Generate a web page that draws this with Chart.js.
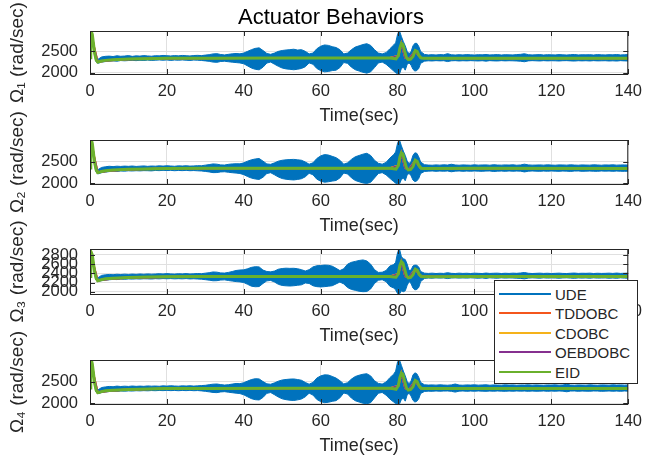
<!DOCTYPE html>
<html>
<head>
<meta charset="utf-8">
<title>Actuator Behaviors</title>
<script src="https://cdn.jsdelivr.net/npm/chart.js@4.4.0/dist/chart.umd.min.js"></script>
<style>
  html, body { margin: 0; padding: 0; background: #fff; }
  #wrap { position: relative; width: 650px; height: 459px; overflow: hidden; background: #fff; }
  #wrap canvas { position: absolute; left: 0; top: 0; }
  #legend {
    position: absolute; left: 494px; top: 280px; width: 144px; height: 104px;
    box-sizing: border-box; background: #fff; border: 1px solid #262626;
    font: 15px "Liberation Sans", Arial, Helvetica, sans-serif; color: #262626;
  }
  #legend .row { position: absolute; left: 4px; height: 20px; display: flex; align-items: center; }
  #legend .swatch { width: 52px; height: 2px; margin-right: 4px; }
</style>
</head>
<body>
<div id="wrap">
  <canvas id="c0" width="650" height="459"></canvas>
  <canvas id="c1" width="650" height="459"></canvas>
  <canvas id="c2" width="650" height="459"></canvas>
  <canvas id="c3" width="650" height="459"></canvas>
  <div id="legend"></div>
</div>
<script>
// ---- data ----
const seriesNames = ['UDE', 'TDDOBC', 'CDOBC', 'OEBDOBC', 'EID'];
const xTicks = [0, 20, 40, 60, 80, 100, 120, 140];
const yTicksWide = [2000, 2500];
const yTicksFine = [2000, 2200, 2400, 2600, 2800];

// UDE is a fast oscillation: kept as its upper / lower envelope
const timeBand = [0, 0.4, 1, 1.5, 2,
  3, 4, 5, 6, 7, 8, 9, 10, 11, 12, 13, 14, 15, 16, 17, 18, 19, 20, 21, 22,
  23, 24, 25, 26, 27, 28, 29, 30, 31, 32, 33, 34, 35, 36, 37, 38, 39, 40, 41, 42,
  43, 44, 45, 46, 47, 48, 49, 50, 51, 52, 53, 54, 55, 56, 57, 58, 59, 60, 61, 62,
  63, 64, 65, 66, 67, 68, 69, 70, 71, 72, 73, 74, 75, 76, 77, 78, 79,
  79.5, 80, 80.5, 81, 81.5, 82, 82.5, 83, 83.5, 84, 84.5, 85, 85.5, 86,
  87, 88, 89, 90, 91, 92, 93, 94, 95, 96, 97, 98, 99, 100, 101, 102, 103, 104, 105, 106,
  107, 108, 109, 110, 111, 112, 113, 114, 115, 116, 117, 118, 119, 120, 121, 122, 123, 124, 125, 126,
  127, 128, 129, 130, 131, 132, 133, 134, 135, 136, 137, 138, 139, 140];

const ude1Upper = [2350, 2960, 2660, 2390, 2310,
  2370, 2385, 2390, 2380, 2398, 2386, 2392, 2402, 2384, 2396,
  2390, 2402, 2394, 2388, 2400, 2396, 2406, 2400, 2394, 2402,
  2396, 2406, 2400, 2394, 2404, 2408, 2402, 2414, 2424, 2442,
  2448, 2428, 2418, 2432, 2444, 2452, 2444, 2462, 2502, 2542,
  2572, 2584, 2522, 2452, 2432, 2462, 2502, 2522, 2534, 2542,
  2552, 2532, 2542, 2502, 2442, 2462, 2562, 2622, 2652, 2642,
  2612, 2592, 2542, 2442, 2462, 2542, 2602, 2632, 2662, 2682,
  2642, 2542, 2462, 2442, 2472, 2562, 2652,
  2700, 2900, 2980, 2850, 2730, 2630, 2500, 2450, 2490, 2630, 2690, 2690, 2620, 2500,
  2430, 2418, 2424, 2416, 2426, 2420, 2448, 2422, 2416, 2424,
  2418, 2426, 2420, 2416, 2424, 2420, 2428, 2418, 2422, 2426,
  2416, 2424, 2420, 2418, 2426, 2432, 2446, 2424, 2418, 2422,
  2426, 2416, 2424, 2420, 2418, 2426, 2420, 2416, 2424, 2428,
  2418, 2422, 2420, 2424, 2416, 2426, 2420, 2418, 2424, 2420,
  2428, 2418, 2422, 2426];
const ude1Lower = [2330, 2850, 2500, 2270, 2220,
  2250, 2262, 2272, 2280, 2270, 2286, 2280, 2286, 2290, 2284,
  2292, 2288, 2296, 2290, 2294, 2300, 2294, 2300, 2290, 2298,
  2294, 2300, 2294, 2288, 2298, 2294, 2288, 2278, 2268, 2250,
  2244, 2264, 2270, 2258, 2248, 2238, 2230, 2210, 2160, 2110,
  2080, 2068, 2130, 2228, 2250, 2200, 2150, 2110, 2090, 2080,
  2070, 2082, 2100, 2140, 2230, 2200, 2100, 2050, 2020, 2030,
  2050, 2060, 2120, 2240, 2220, 2130, 2070, 2040, 2010, 1990,
  2020, 2120, 2230, 2250, 2200, 2120, 2040,
  2000, 1975, 1970, 2100, 2130, 2060, 2200, 2230, 2180, 2080, 2040, 2050, 2100, 2220,
  2272, 2280, 2276, 2284, 2278, 2282, 2262, 2280, 2284, 2276,
  2282, 2278, 2284, 2280, 2276, 2282, 2272, 2284, 2278, 2276,
  2284, 2278, 2282, 2280, 2276, 2270, 2258, 2278, 2284, 2280,
  2276, 2284, 2278, 2282, 2280, 2276, 2282, 2284, 2278, 2274,
  2282, 2278, 2282, 2276, 2284, 2278, 2280, 2282, 2276, 2280,
  2274, 2284, 2278, 2276];

const ude2Upper = [2350, 2985, 2680, 2400, 2310,
  2365, 2380, 2392, 2384, 2394, 2388, 2396, 2390, 2398, 2388,
  2394, 2400, 2390, 2398, 2394, 2402, 2396, 2404, 2398, 2392,
  2402, 2398, 2404, 2396, 2400, 2406, 2404, 2418, 2430, 2446,
  2440, 2424, 2420, 2436, 2446, 2450, 2448, 2470, 2510, 2540,
  2560, 2570, 2510, 2446, 2436, 2470, 2510, 2530, 2540, 2546,
  2550, 2540, 2530, 2490, 2440, 2470, 2570, 2630, 2660, 2650,
  2620, 2590, 2530, 2440, 2470, 2550, 2610, 2640, 2670, 2690,
  2640, 2530, 2460, 2440, 2480, 2580, 2660,
  2720, 2920, 2995, 2860, 2740, 2640, 2510, 2455, 2500, 2640, 2700, 2690, 2610, 2490,
  2428, 2420, 2416, 2424, 2418, 2426, 2420, 2438, 2422, 2416,
  2424, 2420, 2416, 2426, 2418, 2422, 2424, 2416, 2428, 2420,
  2418, 2424, 2420, 2426, 2416, 2422, 2440, 2424, 2418, 2420,
  2424, 2418, 2426, 2420, 2416, 2424, 2422, 2418, 2426, 2420,
  2416, 2424, 2420, 2418, 2426, 2422, 2416, 2424, 2420, 2426,
  2418, 2422, 2424, 2420];
const ude2Lower = [2330, 2870, 2520, 2275, 2215,
  2245, 2258, 2270, 2278, 2274, 2284, 2280, 2288, 2284, 2290,
  2286, 2292, 2290, 2286, 2296, 2292, 2298, 2294, 2298, 2290,
  2296, 2292, 2298, 2290, 2294, 2288, 2284, 2274, 2262, 2246,
  2248, 2262, 2266, 2254, 2244, 2236, 2226, 2200, 2156, 2120,
  2100, 2090, 2140, 2226, 2244, 2196, 2146, 2110, 2094, 2084,
  2078, 2090, 2106, 2150, 2232, 2196, 2096, 2050, 2026, 2036,
  2052, 2066, 2124, 2236, 2216, 2126, 2066, 2036, 2010, 1998,
  2024, 2124, 2226, 2246, 2196, 2116, 2040,
  2005, 1990, 1986, 2090, 2120, 2060, 2196, 2228, 2176, 2076, 2040, 2056, 2110, 2226,
  2274, 2280, 2284, 2276, 2282, 2278, 2284, 2266, 2280, 2284,
  2276, 2282, 2278, 2284, 2280, 2276, 2282, 2284, 2272, 2280,
  2282, 2276, 2284, 2278, 2282, 2280, 2262, 2278, 2284, 2280,
  2276, 2282, 2278, 2284, 2280, 2276, 2282, 2280, 2274, 2282,
  2284, 2276, 2280, 2282, 2278, 2276, 2284, 2280, 2282, 2276,
  2282, 2278, 2276, 2280];

const ude3Upper = [2330, 2850, 2600, 2370, 2300,
  2355, 2368, 2376, 2370, 2380, 2374, 2382, 2376, 2384, 2378,
  2386, 2380, 2388, 2382, 2386, 2392, 2386, 2394, 2388, 2384,
  2392, 2388, 2394, 2386, 2390, 2396, 2392, 2404, 2414, 2430,
  2426, 2410, 2406, 2420, 2440, 2462, 2472, 2476, 2500, 2530,
  2545, 2540, 2470, 2440, 2432, 2450, 2490, 2505, 2512, 2508,
  2510, 2500, 2480, 2450, 2480, 2540, 2566, 2570, 2580, 2576,
  2556, 2510, 2460, 2500, 2600, 2640, 2660, 2680, 2692, 2670,
  2600, 2480, 2420, 2424, 2460, 2560, 2590,
  2640, 2850, 2930, 2760, 2720, 2700, 2600, 2460, 2470, 2560, 2580, 2575, 2540, 2440,
  2404, 2398, 2404, 2396, 2402, 2398, 2414, 2400, 2396, 2404,
  2398, 2402, 2396, 2404, 2400, 2396, 2406, 2398, 2402, 2404,
  2396, 2402, 2398, 2404, 2400, 2408, 2418, 2402, 2396, 2400,
  2404, 2398, 2402, 2396, 2400, 2404, 2398, 2396, 2402, 2406,
  2398, 2402, 2400, 2404, 2396, 2402, 2398, 2400, 2404, 2398,
  2406, 2398, 2402, 2404];
const ude3Lower = [2310, 2760, 2480, 2260, 2225,
  2240, 2252, 2260, 2268, 2264, 2274, 2270, 2278, 2274, 2280,
  2276, 2282, 2280, 2276, 2284, 2280, 2286, 2282, 2286, 2280,
  2284, 2280, 2286, 2278, 2282, 2276, 2272, 2262, 2252, 2238,
  2240, 2254, 2258, 2244, 2232, 2220, 2214, 2200, 2160, 2120,
  2108, 2112, 2180, 2236, 2246, 2210, 2160, 2136, 2128, 2124,
  2130, 2140, 2150, 2190, 2180, 2130, 2110, 2104, 2110, 2120,
  2130, 2170, 2210, 2170, 2090, 2050, 2030, 2010, 2000, 2004,
  2060, 2180, 2250, 2262, 2220, 2120, 2080,
  2040, 1960, 1950, 2020, 2000, 2020, 2140, 2220, 2180, 2080, 2040, 2050, 2090, 2220,
  2290, 2298, 2294, 2302, 2296, 2300, 2286, 2298, 2302, 2296,
  2300, 2296, 2302, 2298, 2294, 2300, 2290, 2302, 2296, 2294,
  2302, 2296, 2300, 2298, 2294, 2290, 2280, 2296, 2302, 2298,
  2294, 2302, 2296, 2300, 2298, 2294, 2300, 2302, 2296, 2292,
  2300, 2296, 2300, 2294, 2302, 2296, 2298, 2300, 2294, 2298,
  2292, 2302, 2296, 2294];

const ude4Upper = [2350, 2980, 2670, 2395, 2305,
  2362, 2378, 2388, 2382, 2396, 2386, 2394, 2388, 2398, 2390,
  2396, 2390, 2400, 2394, 2398, 2392, 2402, 2396, 2404, 2398,
  2394, 2402, 2398, 2404, 2396, 2402, 2408, 2414, 2428, 2440,
  2444, 2430, 2420, 2428, 2442, 2456, 2452, 2474, 2512, 2546,
  2566, 2560, 2500, 2448, 2438, 2470, 2510, 2536, 2548, 2556,
  2560, 2546, 2530, 2480, 2440, 2480, 2580, 2630, 2654, 2650,
  2618, 2580, 2520, 2446, 2474, 2556, 2616, 2646, 2668, 2680,
  2630, 2520, 2458, 2442, 2490, 2590, 2670,
  2740, 2950, 2995, 2870, 2740, 2630, 2500, 2452, 2510, 2650, 2700, 2680, 2600, 2480,
  2426, 2420, 2424, 2418, 2426, 2420, 2416, 2424, 2444, 2420,
  2416, 2424, 2420, 2426, 2418, 2422, 2426, 2416, 2424, 2420,
  2418, 2426, 2420, 2424, 2416, 2422, 2420, 2426, 2418, 2424,
  2420, 2416, 2424, 2420, 2426, 2418, 2422, 2438, 2420, 2416,
  2424, 2420, 2418, 2426, 2420, 2416, 2424, 2422, 2418, 2426,
  2420, 2424, 2418, 2422];
const ude4Lower = [2330, 2860, 2510, 2270, 2218,
  2248, 2262, 2272, 2278, 2272, 2284, 2280, 2286, 2282, 2290,
  2286, 2292, 2288, 2294, 2290, 2296, 2292, 2298, 2292, 2296,
  2290, 2296, 2292, 2298, 2290, 2294, 2286, 2276, 2264, 2250,
  2246, 2262, 2268, 2256, 2244, 2234, 2224, 2196, 2150, 2108,
  2084, 2078, 2136, 2230, 2248, 2198, 2144, 2104, 2084, 2072,
  2066, 2080, 2100, 2150, 2234, 2190, 2090, 2040, 2016, 2024,
  2046, 2062, 2126, 2238, 2214, 2120, 2060, 2030, 2004, 1990,
  2016, 2124, 2232, 2250, 2190, 2100, 2030,
  1995, 1986, 1985, 2090, 2120, 2050, 2196, 2232, 2170, 2070, 2030, 2046, 2104, 2226,
  2274, 2280, 2276, 2284, 2278, 2282, 2284, 2276, 2258, 2280,
  2284, 2276, 2282, 2278, 2284, 2280, 2276, 2282, 2278, 2284,
  2280, 2276, 2282, 2278, 2284, 2280, 2282, 2276, 2282, 2278,
  2280, 2284, 2276, 2282, 2278, 2284, 2280, 2266, 2282, 2284,
  2276, 2282, 2280, 2278, 2284, 2282, 2276, 2280, 2284, 2278,
  2282, 2276, 2284, 2280];

// the three observer controllers sit almost exactly under EID
const timeCtl = [0, 0.4, 1, 2, 3, 5, 10, 20, 40, 78, 80.2, 81, 82, 83, 84.6, 86, 90, 140];
const tddobc1 = [2350, 2930, 2620, 2255, 2270, 2290, 2318, 2337, 2344, 2344, 2395, 2680, 2350, 2322, 2510, 2350, 2342, 2340];
const cdobc1 = [2350, 2940, 2630, 2252, 2272, 2292, 2320, 2338, 2345, 2345, 2398, 2685, 2352, 2320, 2515, 2348, 2340, 2341];
const oebdobc1 = [2350, 2925, 2610, 2258, 2268, 2288, 2316, 2336, 2343, 2343, 2392, 2675, 2348, 2324, 2505, 2352, 2343, 2339];
const tddobc2 = [2350, 2955, 2640, 2252, 2268, 2290, 2320, 2338, 2345, 2345, 2405, 2690, 2352, 2322, 2520, 2350, 2343, 2342];
const cdobc2 = [2350, 2965, 2650, 2250, 2270, 2292, 2322, 2340, 2346, 2346, 2408, 2695, 2354, 2320, 2525, 2348, 2342, 2343];
const oebdobc2 = [2350, 2950, 2630, 2255, 2266, 2288, 2318, 2337, 2344, 2344, 2402, 2685, 2350, 2324, 2515, 2352, 2344, 2341];
const tddobc3 = [2330, 2820, 2560, 2242, 2258, 2278, 2306, 2322, 2328, 2330, 2385, 2645, 2336, 2308, 2485, 2336, 2328, 2330];
const cdobc3 = [2330, 2830, 2570, 2240, 2260, 2280, 2308, 2324, 2330, 2330, 2388, 2650, 2338, 2306, 2490, 2334, 2328, 2331];
const oebdobc3 = [2330, 2815, 2550, 2245, 2256, 2276, 2304, 2321, 2329, 2329, 2382, 2640, 2334, 2310, 2480, 2338, 2329, 2329];
const tddobc4 = [2350, 2950, 2630, 2250, 2266, 2288, 2318, 2337, 2344, 2344, 2400, 2685, 2348, 2318, 2515, 2348, 2341, 2340];
const cdobc4 = [2350, 2960, 2640, 2248, 2268, 2290, 2320, 2338, 2345, 2345, 2403, 2690, 2350, 2316, 2520, 2346, 2340, 2341];
const oebdobc4 = [2350, 2945, 2620, 2252, 2264, 2286, 2316, 2336, 2343, 2343, 2397, 2680, 2346, 2320, 2510, 2350, 2342, 2339];

const timeEid = [0, 0.2, 0.4, 0.6, 0.9, 1.2, 1.6, 2, 2.5, 3, 4, 6, 10, 15, 20, 30, 50, 78, 79, 79.6,
  80.2, 80.6, 81, 81.4, 81.8, 82.3, 82.8, 83.4, 84, 84.6, 85.1, 85.6, 86.2, 87, 100, 140];
const eid1 = [2350, 2720, 2950, 2900, 2680, 2460, 2300, 2250, 2262, 2275, 2290, 2305, 2320, 2330, 2338, 2342, 2345, 2345, 2335, 2325,
  2400, 2580, 2690, 2660, 2520, 2360, 2310, 2320, 2380, 2520, 2500, 2400, 2345, 2340, 2342, 2340];
const eid2 = [2350, 2750, 2980, 2920, 2700, 2470, 2310, 2248, 2258, 2272, 2290, 2305, 2322, 2332, 2340, 2344, 2346, 2346, 2336, 2326,
  2410, 2600, 2700, 2670, 2520, 2360, 2310, 2320, 2385, 2530, 2505, 2400, 2346, 2342, 2344, 2342];
const eid3 = [2330, 2640, 2840, 2800, 2620, 2430, 2290, 2240, 2250, 2262, 2280, 2295, 2310, 2320, 2326, 2330, 2332, 2332, 2322, 2315,
  2390, 2570, 2655, 2620, 2500, 2350, 2300, 2310, 2370, 2490, 2470, 2380, 2332, 2328, 2330, 2330];
const eid4 = [2350, 2740, 2975, 2910, 2690, 2460, 2300, 2245, 2255, 2270, 2288, 2302, 2320, 2330, 2338, 2342, 2345, 2345, 2334, 2324,
  2405, 2590, 2695, 2665, 2515, 2355, 2305, 2318, 2380, 2525, 2500, 2398, 2344, 2340, 2342, 2340];

// ---- look ----
const colors = ['#0072BD', '#F4561C', '#F5B21A', '#86308F', '#6AB02C'];
const textColor = '#262626';
const gridColor = '#e0e0e0';
const fontFamily = '"Liberation Sans", Arial, Helvetica, sans-serif';
Chart.defaults.font.family = fontFamily;
Chart.defaults.color = textColor;

const plotLeft = 90, plotRight = 637, xAxisH = 54;

const panels = [
  { top: 31, bottom: 74, min: 1970, max: 2980, yTicks: yTicksWide, label: 'Ω₁ (rad/sec)',
    upper: ude1Upper, lower: ude1Lower, ctl: [tddobc1, cdobc1, oebdobc1], eid: eid1, title: true },
  { top: 140, bottom: 184, min: 1985, max: 2995, yTicks: yTicksWide, label: 'Ω₂ (rad/sec)',
    upper: ude2Upper, lower: ude2Lower, ctl: [tddobc2, cdobc2, oebdobc2], eid: eid2 },
  { top: 249, bottom: 294, min: 1950, max: 2930, yTicks: yTicksFine, label: 'Ω₃ (rad/sec)',
    upper: ude3Upper, lower: ude3Lower, ctl: [tddobc3, cdobc3, oebdobc3], eid: eid3 },
  { top: 360, bottom: 404, min: 1985, max: 2995, yTicks: yTicksWide, label: 'Ω₄ (rad/sec)',
    upper: ude4Upper, lower: ude4Lower, ctl: [tddobc4, cdobc4, oebdobc4], eid: eid4 }
];

const pts = (xs, ys) => xs.map((x, i) => ({ x: x, y: ys[i] }));

// MATLAB-like box with inward ticks
const frame = {
  id: 'frame',
  afterDatasetsDraw(chart) {
    const { ctx, chartArea: a, scales } = chart;
    ctx.save();
    ctx.strokeStyle = textColor;
    ctx.lineWidth = 1;
    ctx.beginPath();
    scales.x.ticks.forEach(t => {
      const px = Math.round(scales.x.getPixelForValue(t.value)) + 0.5;
      ctx.moveTo(px, a.bottom); ctx.lineTo(px, a.bottom - 5);
      ctx.moveTo(px, a.top); ctx.lineTo(px, a.top + 5);
    });
    scales.y.ticks.forEach(t => {
      const py = Math.round(scales.y.getPixelForValue(t.value)) + 0.5;
      ctx.moveTo(a.left, py); ctx.lineTo(a.left + 5, py);
      ctx.moveTo(a.right, py); ctx.lineTo(a.right - 5, py);
    });
    ctx.stroke();
    ctx.strokeRect(a.left + 0.5, a.top + 0.5, a.right - a.left - 1, a.bottom - a.top);
    ctx.restore();
  }
};

panels.forEach((p, i) => {
  const padLeft = p.title ? 25 : 0;
  const titleH = 22 * 1.2;
  const datasets = [
    { label: seriesNames[0], data: pts(timeBand, p.upper), borderColor: colors[0], backgroundColor: colors[0],
      borderWidth: 1, fill: '+1', order: 5 },
    { label: seriesNames[0] + ' (lower)', data: pts(timeBand, p.lower), borderColor: colors[0],
      borderWidth: 1, fill: false, order: 5 }
  ];
  p.ctl.forEach((vals, k) => {
    datasets.push({ label: seriesNames[k + 1], data: pts(timeCtl, vals), borderColor: colors[k + 1],
      borderWidth: 2, fill: false, order: 4 - k });
  });
  datasets.push({ label: seriesNames[4], data: pts(timeEid, p.eid), borderColor: colors[4],
    borderWidth: 3, fill: false, order: 0 });

  new Chart(document.getElementById('c' + i), {
    type: 'line',
    data: { datasets: datasets },
    options: {
      responsive: false,
      animation: false,
      devicePixelRatio: 1,
      layout: { padding: { top: p.title ? p.top - titleH : p.top, left: padLeft, right: 650 - plotRight, bottom: 459 - p.bottom - xAxisH } },
      elements: { point: { radius: 0 }, line: { tension: 0 } },
      plugins: {
        legend: { display: false },
        tooltip: { enabled: false },
        title: {
          display: !!p.title, text: 'Actuator Behaviors', color: '#000',
          font: { size: 22, weight: 'normal' }, padding: 0
        }
      },
      scales: {
        x: {
          type: 'linear', min: 0, max: 140,
          afterBuildTicks: s => { s.ticks = xTicks.map(v => ({ value: v })); },
          afterFit: s => { s.height = xAxisH; },
          grid: { color: gridColor, drawTicks: false },
          border: { display: false },
          ticks: { padding: 8, color: textColor, font: { size: 16.5 }, maxRotation: 0, callback: v => String(v) },
          title: { display: true, text: 'Time(sec)', color: textColor, font: { size: 18 }, padding: { top: 0, bottom: 1 } }
        },
        y: {
          type: 'linear', min: p.min, max: p.max,
          afterBuildTicks: s => { s.ticks = p.yTicks.map(v => ({ value: v })); },
          afterFit: s => { s.width = plotLeft - padLeft; },
          grid: { color: gridColor, drawTicks: false },
          border: { display: false },
          ticks: { padding: 12, color: textColor, font: { size: 16.5 }, autoSkip: false, callback: v => String(v) },
          title: { display: true, text: p.label, color: textColor, font: { size: 19 },
            padding: { top: 18 - 11.4 - padLeft, bottom: 0 } }
        }
      }
    },
    plugins: [frame]
  });
});

// legend box (sits over panels 3 and 4 as in the figure)
const legend = document.getElementById('legend');
const rowTops = [3, 22, 42, 61, 81];
seriesNames.forEach((name, k) => {
  const row = document.createElement('div');
  row.className = 'row';
  row.style.top = rowTops[k] + 'px';
  const sw = document.createElement('div');
  sw.className = 'swatch';
  sw.style.background = colors[k];
  const label = document.createElement('span');
  label.textContent = name;
  row.appendChild(sw);
  row.appendChild(label);
  legend.appendChild(row);
});
</script>
</body>
</html>
